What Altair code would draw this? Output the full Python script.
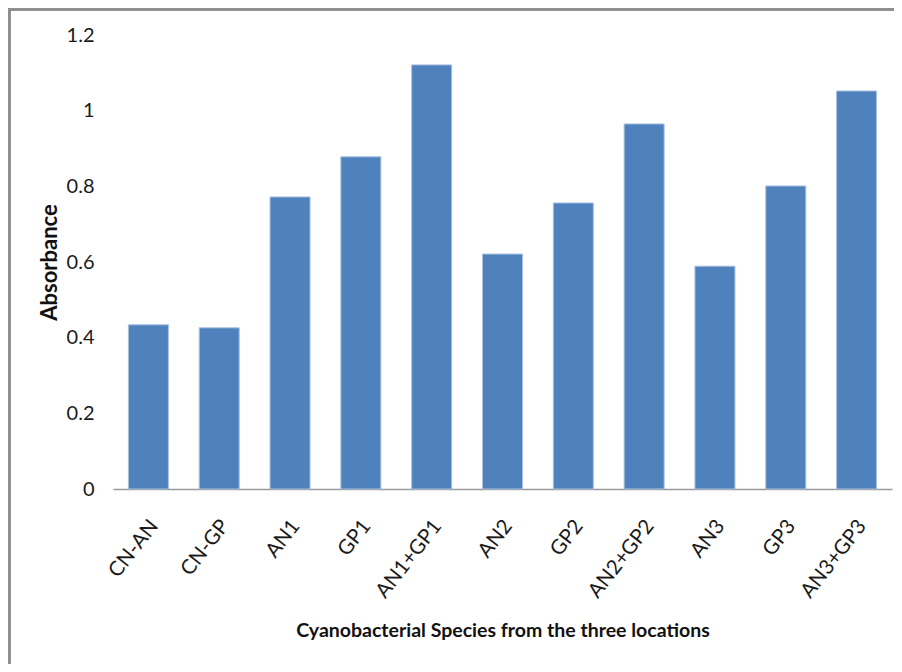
import altair as alt
import pandas as pd

categories = ["CN-AN", "CN-GP", "AN1", "GP1", "AN1+GP1", "AN2", "GP2",
              "AN2+GP2", "AN3", "GP3", "AN3+GP3"]
absorbance = [0.434, 0.426, 0.772, 0.878, 1.121, 0.621, 0.756,
              0.965, 0.589, 0.801, 1.052]
y_ticks = [0, 0.2, 0.4, 0.6, 0.8, 1.0, 1.2]

df = pd.DataFrame({"species": categories, "absorbance": absorbance})

FONT = "Lato"

bars = alt.Chart(df).mark_bar(
    color="#4F81BD", stroke="#a9c1e0", strokeWidth=1
).encode(
    x=alt.X(
        "species:N",
        sort=categories,
        scale=alt.Scale(paddingInner=0.435, paddingOuter=0.2175),
        axis=alt.Axis(
            title="Cyanobacterial Species from the three locations",
            labelAngle=-52,
            labelAlign="right",
            labelBaseline="top",
            labelPadding=27,
            labelOffset=-2,
            labelFontSize=20.5,
            labelFont=FONT,
            labelColor="#1a1a1a",
            ticks=False,
            tickSize=0,
            domainColor="#9a9a9a",
            domainWidth=1.5,
            titleFont=FONT,
            titleFontSize=19.5,
            titleFontWeight="bold",
            titleColor="#111111",
            titleY=141,
            titleBaseline="middle",
            labelLimit=300,
        ),
    ),
    y=alt.Y(
        "absorbance:Q",
        scale=alt.Scale(domain=[0, 1.2], nice=False),
        axis=alt.Axis(
            title="Absorbance",
            values=y_ticks,
            format="~g",
            grid=False,
            domain=False,
            ticks=False,
            tickSize=0,
            labelPadding=19,
            labelFontSize=20,
            labelFont=FONT,
            labelColor="#1a1a1a",
            titleFont=FONT,
            titleFontSize=22,
            titleFontWeight="bold",
            titleColor="#111111",
            titleX=-64,
            titleY=227,
            titleAngle=270,
            titleAlign="center",
            titleBaseline="middle",
        ),
    ),
)

frame = alt.Chart(df).mark_rect(
    filled=False, stroke="#8f8f8f", strokeWidth=2.5
).encode(
    x=alt.value(-104),
    x2=alt.value(900),
    y=alt.value(-26),
    y2=alt.value(700),
)

chart = alt.layer(bars, frame).properties(
    width=779,
    height=454,
    autosize=alt.AutoSizeParams(type="none"),
    padding={"left": 105, "top": 27, "right": 2, "bottom": 175},
).configure_view(stroke=None)

chart.save("out.html", embed_options={"renderer": "svg", "actions": False})
